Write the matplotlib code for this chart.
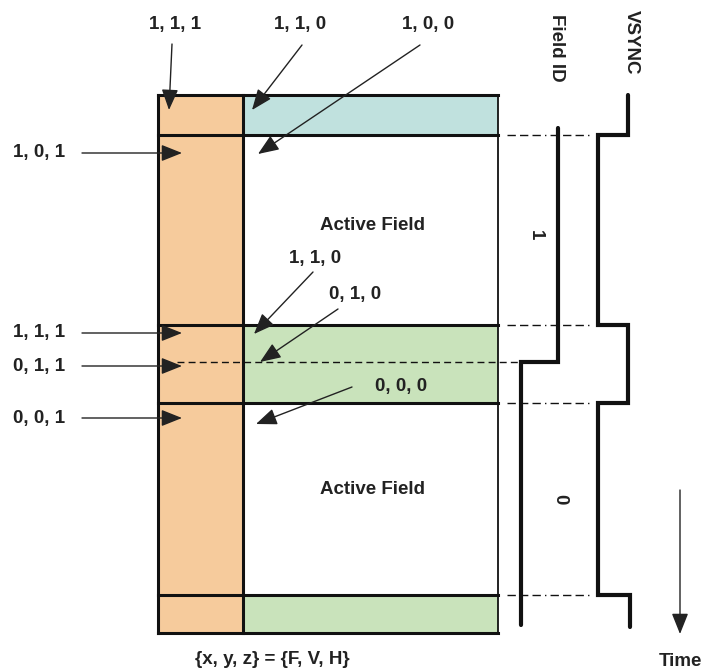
import matplotlib
matplotlib.use("Agg")
import matplotlib.pyplot as plt
from matplotlib.patches import Rectangle

plt.rcParams['font.family'] = ['Liberation Sans Narrow', 'Liberation Sans', 'DejaVu Sans']

W, H = 705, 671
# Frame geometry (pixel coordinates)
box_left, box_div, box_right = 158, 243, 498
row_edges = [95, 135, 325, 403, 595, 633]
row_fill = ['#C0E1DE', 'white', '#C9E3BB', 'white', '#C9E3BB']
side_fill = '#F6CB9C'
mid_dash_y = 362

top_labels = ['1, 1, 1', '1, 1, 0', '1, 0, 0']
top_label_x = [175, 300, 428]
top_label_y = [25, 25, 25]
top_arrow_from = [(172, 44), (302, 45), (420, 45)]
top_arrow_to = [(169, 110), (252, 110), (258, 154)]

left_labels = ['1, 0, 1', '1, 1, 1', '0, 1, 1', '0, 0, 1']
left_label_y = [153, 333, 366, 418]

inner_labels = ['1, 1, 0', '0, 1, 0', '0, 0, 0']
inner_label_xy = [(315, 258), (355, 294), (401, 386)]
inner_arrow_from = [(313, 272), (338, 309), (352, 387)]
inner_arrow_to = [(254, 334), (260, 362), (256, 424)]

active_labels = ['Active Field', 'Active Field']
active_y = [225, 490]

# Signals (step waveforms)
field_x = [558, 558, 521, 521]
field_y = [128, 362, 362, 625]
vsync_x = [628, 628, 598, 598, 628, 628, 598, 598, 630, 630]
vsync_y = [95, 135, 135, 325, 325, 403, 403, 595, 595, 627]
field_values = ['1', '0']
field_value_xy = [(535, 235), (560, 499)]

fig = plt.figure(figsize=(W / 100, H / 100), dpi=100)
ax = fig.add_axes([0, 0, 1, 1])
ax.set_xlim(0, W)
ax.set_ylim(H, 0)
ax.axis('off')

ax.add_patch(Rectangle((box_left, row_edges[0]), box_div - box_left,
                       row_edges[-1] - row_edges[0], facecolor=side_fill,
                       edgecolor='none', zorder=1))
for i, c in enumerate(row_fill):
    ax.add_patch(Rectangle((box_div, row_edges[i]), box_right - box_div,
                           row_edges[i + 1] - row_edges[i], facecolor=c,
                           edgecolor='none', zorder=1))
for y in row_edges:
    ax.plot([box_left, box_right], [y, y], color='#111', lw=2.2, zorder=3,
            solid_capstyle='projecting')
ax.plot([box_left, box_left], [row_edges[0], row_edges[-1]], color='#111', lw=2.2, zorder=3)
ax.plot([box_div, box_div], [row_edges[0], row_edges[-1]], color='#111', lw=2.2, zorder=3)
ax.plot([box_right, box_right], [row_edges[0], row_edges[-1]], color='#111', lw=1.3, zorder=3)

ax.plot([177, 521], [mid_dash_y, mid_dash_y], color='#111', lw=1.0,
        dashes=(5, 3), zorder=2)
for y in [row_edges[1], row_edges[2], row_edges[3], row_edges[4]]:
    ax.plot([507, 590], [y, y], color='#111', lw=1.0, dashes=(6, 3, 6, 3, 6, 3, 1, 3), zorder=2)

ax.plot(field_x, field_y, color='#111', lw=3, solid_joinstyle='miter',
        solid_capstyle='round', zorder=4)
ax.plot(vsync_x, vsync_y, color='#111', lw=3, solid_joinstyle='miter',
        solid_capstyle='round', zorder=4)

txt = dict(fontsize=13.5, fontweight='bold', color='#222')
aprops = dict(arrowstyle='-|>,head_length=0.75,head_width=0.3', lw=1.0, color='#222',
              mutation_scale=17, shrinkA=0, shrinkB=0)

for t, x, y, a0, a1 in zip(top_labels, top_label_x, top_label_y, top_arrow_from, top_arrow_to):
    ax.text(x, y, t, ha='center', va='center', **txt)
    ax.annotate('', xy=a1, xytext=a0, arrowprops=aprops, zorder=5)

for t, y in zip(left_labels, left_label_y):
    ax.text(13, y, t, ha='left', va='center', **txt)
    ax.annotate('', xy=(182, y), xytext=(82, y), arrowprops=aprops, zorder=5)

for t, (x, y), a0, a1 in zip(inner_labels, inner_label_xy, inner_arrow_from, inner_arrow_to):
    ax.text(x, y, t, ha='center', va='center', **txt)
    ax.annotate('', xy=a1, xytext=a0, arrowprops=aprops, zorder=5)

for t, y in zip(active_labels, active_y):
    ax.text(372, y, t, ha='center', va='center', **txt)

for t, (x, y) in zip(field_values, field_value_xy):
    ax.text(x, y, t, ha='center', va='center', rotation=-90, **txt)

ax.text(557, 48, 'Field ID', ha='center', va='center', rotation=-90, **txt)
ax.text(631, 42, 'VSYNC', ha='center', va='center', rotation=-90, **txt)

ax.annotate('', xy=(680, 634), xytext=(680, 490), arrowprops=aprops, zorder=5)
ax.text(680, 661, 'Time', ha='center', va='center', **txt)
ax.text(272, 660, '{x, y, z} = {F, V, H}', ha='center', va='center', **txt)

fig.savefig('out.png', dpi=100)
